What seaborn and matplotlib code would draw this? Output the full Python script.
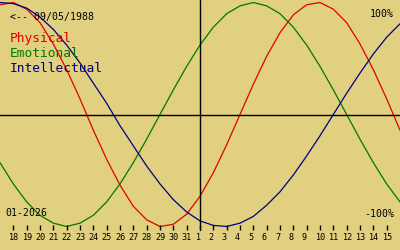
import matplotlib
matplotlib.use("Agg")
import matplotlib.pyplot as plt
import seaborn as sns
import pandas as pd

# ---- data -------------------------------------------------------------
# day offset relative to 01-01-2026 (today, the vertical line)
day_offset = list(range(-15, 16))
physical = [0.98, 1.00, 0.94, 0.82, 0.63, 0.40, 0.14, -0.14, -0.40, -0.63,
            -0.82, -0.94, -1.00, -0.98, -0.89, -0.73, -0.52, -0.27, 0.00, 0.27,
            0.52, 0.73, 0.89, 0.98, 1.00, 0.94, 0.82, 0.63, 0.40, 0.14, -0.14]
emotional = [-0.43, -0.62, -0.78, -0.90, -0.97, -1.00, -0.97, -0.90, -0.78, -0.62,
             -0.43, -0.22, 0.00, 0.22, 0.43, 0.62, 0.78, 0.90, 0.97, 1.00,
             0.97, 0.90, 0.78, 0.62, 0.43, 0.22, 0.00, -0.22, -0.43, -0.62, -0.78]
intellectual = [1.00, 0.99, 0.95, 0.87, 0.76, 0.62, 0.46, 0.28, 0.10, -0.10,
                -0.28, -0.46, -0.62, -0.76, -0.87, -0.95, -0.99, -1.00, -0.97, -0.91,
                -0.81, -0.69, -0.54, -0.37, -0.19, 0.00, 0.19, 0.37, 0.54, 0.69, 0.81]
series_names = ["Physical", "Emotional", "Intellectual"]
tick_offsets = list(range(-14, 15))
tick_labels = ["18", "19", "20", "21", "22", "23", "24", "25", "26", "27", "28",
               "29", "30", "31", "1", "2", "3", "4", "5", "6", "7", "8", "9",
               "10", "11", "12", "13", "14", "15"]
birth_label = "<-- 09/05/1988"
month_label = "01-2026"
top_label = "100%"
bottom_label = "-100%"

# ---- style ------------------------------------------------------------
bg = "#E0D080"
colors = {"Physical": "#E00000", "Emotional": "#007800", "Intellectual": "#000080"}
mono = "DejaVu Sans Mono"

sns.set_style("white")
plt.rcParams["font.family"] = [mono]

df = pd.DataFrame({
    "t": day_offset * 3,
    "value": physical + emotional + intellectual,
    "series": [s for s in series_names for _ in day_offset],
})

W, H = 400, 250
fig = plt.figure(figsize=(W / 100, H / 100), dpi=100, facecolor=bg)
ax = fig.add_axes([0, 0, 1, 1])
ax.set_facecolor(bg)

sns.lineplot(data=df, x="t", y="value", hue="series", palette=colors,
             hue_order=series_names, legend=False, linewidth=0.9, ax=ax,
             sort=False, estimator=None)

center_px, amp_px = 114.5, 112.0
ax.set_xlim(-15, 15)
ax.set_ylim(-(H - center_px) / amp_px, center_px / amp_px)
ax.axis("off")

# axes lines
ax.axhline(0, color="black", lw=1.0)
ax.axvline(0, ymin=(H - 230) / H, ymax=1, color="black", lw=1.0)

# day ticks and labels
xt = ax.get_xaxis_transform()
ax.vlines(tick_offsets, (H - 230) / H, (H - 225) / H, transform=xt,
          color="black", lw=1.0)
for t, lab in zip(tick_offsets, tick_labels):
    ax.annotate(lab, xy=(t, (H - 240) / H), xycoords=xt,
                xytext=(-5, 0), textcoords="offset pixels",
                ha="left", va="baseline", fontsize=6.1, color="black")

def ftext(x, y, s, size, color="black", ha="left"):
    fig.text(x / W, 1 - y / H, s, fontsize=size, color=color,
             ha=ha, va="baseline", family=mono)

ftext(10, 20, birth_label, 7.1)
ftext(10, 42, "Physical", 9.3, colors["Physical"])
ftext(10, 57, "Emotional", 9.3, colors["Emotional"])
ftext(10, 72, "Intellectual", 9.3, colors["Intellectual"])
ftext(394, 17, top_label, 7.1, ha="right")
ftext(394, 217, bottom_label, 7.1, ha="right")
ftext(5, 216, month_label, 7.1)

fig.savefig("out.png", dpi=100, facecolor=bg)
